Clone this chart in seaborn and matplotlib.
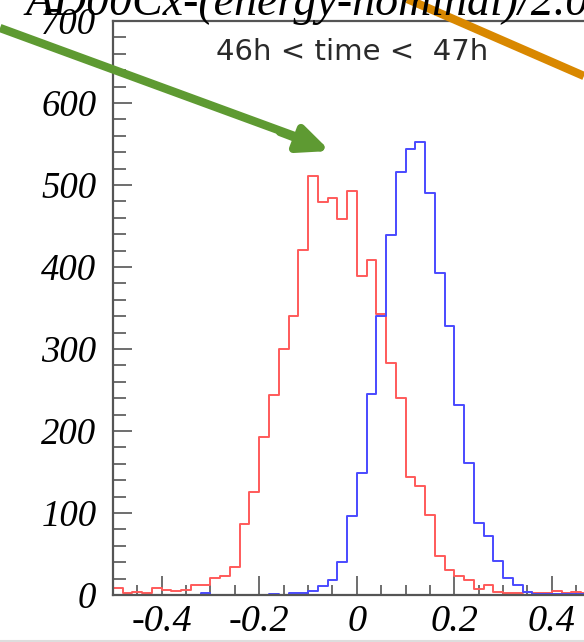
import numpy as np
import pandas as pd
import matplotlib
matplotlib.use("Agg")
import matplotlib.pyplot as plt
from matplotlib.lines import Line2D
from matplotlib.ticker import MultipleLocator
import seaborn as sns

# ---- data ----
bin_edges = [round(-0.5 + 0.02 * i, 4) for i in range(51)]
red_counts = [9, 3, 4, 3, 9, 6, 5, 6, 12, 12,
              21, 23, 34, 87, 126, 193, 244, 300, 340, 421,
              511, 479, 484, 458, 493, 389, 408, 343, 283, 240,
              144, 133, 98, 47, 30, 23, 18, 7, 12, 4,
              2, 3, 4, 2, 2, 5, 3, 4, 3, 2]
blue_counts = [0, 0, 0, 0, 0, 0, 0, 0, 0, 2,
               0, 0, 0, 0, 0, 0, 1, 0, 3, 3,
               5, 11, 18, 40, 96, 149, 245, 340, 439, 516,
               544, 553, 490, 393, 328, 232, 161, 88, 72, 41,
               21, 12, 4, 1, 1, 1, 1, 1, 1, 1]
x_ticks = [-0.4, -0.2, 0, 0.2, 0.4]
x_ticklabels = ["-0.4", "-0.2", "0", "0.2", "0.4"]
y_ticks = [0, 100, 200, 300, 400, 500, 600, 700]
title_text = "AD00Cx-(energy-nominal)/2.0"
annot_text = "46h < time <  47h"

edges = np.array(bin_edges)
centers = (edges[:-1] + edges[1:]) / 2
df_red = pd.DataFrame({"x": centers, "w": red_counts})
df_blue = pd.DataFrame({"x": centers, "w": blue_counts})

sns.set_style("white")
W, H = 584, 642
fig = plt.figure(figsize=(W / 100, H / 100), dpi=100)
ax = fig.add_axes([113 / W, (H - 595) / H, (W - 113) / W, (595 - 21) / H])

sns.histplot(data=df_red, x="x", weights="w", bins=bin_edges,
             element="step", fill=False, color="#ff5a5a", linewidth=1.4, ax=ax)
sns.histplot(data=df_blue, x="x", weights="w", bins=bin_edges,
             element="step", fill=False, color="#4a4aff", linewidth=1.4, ax=ax)

ax.set_xlim(-0.5, -0.5 + (W - 113) / 487.5)
ax.set_ylim(0, 700)
ax.set_xlabel("")
ax.set_ylabel("")
ax.set_xticks(x_ticks)
ax.set_xticklabels(x_ticklabels)
ax.set_yticks(y_ticks)
ax.xaxis.set_minor_locator(MultipleLocator(0.05))
ax.yaxis.set_minor_locator(MultipleLocator(20))

for lab in ax.get_xticklabels():
    lab.set_fontfamily("Liberation Serif")
    lab.set_fontstyle("italic")
    lab.set_fontsize(27.5)
    lab.set_color("black")
for lab in ax.get_yticklabels():
    lab.set_fontfamily("Liberation Serif")
    lab.set_fontstyle("italic")
    lab.set_fontsize(26.5)
    lab.set_color("black")

ax.tick_params(axis="both", which="major", direction="in", length=14, width=1.2,
               color="#555555", pad=7)
ax.tick_params(axis="x", which="minor", direction="in", length=7, width=1.2, color="#555555")
ax.tick_params(axis="y", which="minor", direction="in", length=9, width=1.2, color="#555555")
ax.tick_params(axis="y", which="major", pad=12)
ax.tick_params(bottom=True, left=True, which="both")

for side in ["left", "bottom", "top"]:
    ax.spines[side].set_visible(True)
    ax.spines[side].set_color("#555555")
    ax.spines[side].set_linewidth(1.6)
ax.spines["right"].set_visible(False)

ax.text((352 - 113) / (W - 113), (595 - 52) / 574, annot_text, transform=ax.transAxes,
        ha="center", va="center", fontsize=21, family="DejaVu Sans", color="#2a2a2a")

fig.text(26 / W, 1 - 15 / H, title_text, ha="left", va="baseline",
         fontsize=33, family="Liberation Serif", style="italic", color="black")

# arrows
fig.add_artist(plt.Line2D([0 / W, 300 / W], [1 - 28 / H, 1 - 138 / H],
                          color="#5e9a32", linewidth=6, solid_capstyle="butt"))
ax.annotate("", xy=(330 / W, 1 - 151 / H), xycoords="figure fraction",
            xytext=(280 / W, 1 - 132 / H), textcoords="figure fraction",
            arrowprops=dict(arrowstyle="-|>,head_length=1.8,head_width=0.8",
                            color="#5e9a32", lw=6, shrinkA=0, shrinkB=0),
            annotation_clip=False)
fig.add_artist(plt.Line2D([405 / W, 584 / W], [1 + 2 / H, 1 - 76 / H],
                          color="#d98800", linewidth=6, solid_capstyle="butt"))

fig.add_artist(Line2D([0, 1], [1.5 / H, 1.5 / H], color="#dddddd", linewidth=1.5))

fig.savefig("out.png", dpi=100)
